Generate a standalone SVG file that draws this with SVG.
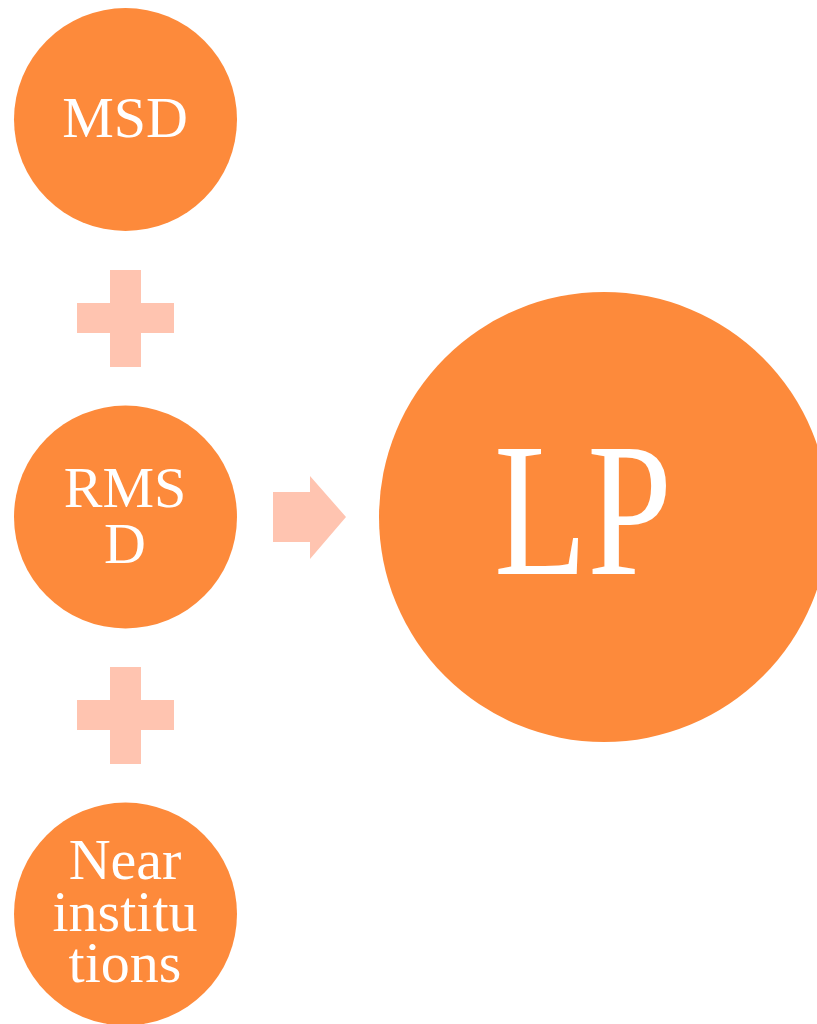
<svg xmlns="http://www.w3.org/2000/svg" width="817" height="1024" viewBox="0 0 817 1024">
<style>
.node{fill:#FD8A3B}
.lbl{fill:#FFFFFF;font-family:"Liberation Serif","DejaVu Serif",serif;font-size:58px;text-anchor:middle}
.big{font-size:190px}
.conn{fill:#FFC4B0}
</style>
<rect width="817" height="1024" fill="#FFFFFF"/>
<g id="connectors">
<path class="conn" d="M110,270H141V303H174V333H141V367H110V333H77V303H110Z"/>
<path class="conn" d="M110,667H141V700H174V730H141V764H110V730H77V700H110Z"/>
<path class="conn" d="M273,492H310V476L346,517L310,559V542H273Z"/>
</g>
<g id="msd">
<circle class="node" cx="125.5" cy="119.5" r="111.5"/>
<text class="lbl" x="125" y="137">MSD</text>
</g>
<g id="rmsd">
<circle class="node" cx="125.5" cy="517" r="111.5"/>
<text class="lbl" x="125" y="507">RMS</text>
<text class="lbl" x="125" y="563">D</text>
</g>
<g id="near">
<circle class="node" cx="125.5" cy="914" r="111.5"/>
<text class="lbl" x="125" y="879">Near</text>
<text class="lbl" x="125" y="931">institu</text>
<text class="lbl" x="125" y="982">tions</text>
</g>
<g id="lp">
<circle class="node" cx="604" cy="517" r="225"/>
<text class="lbl big" x="583" y="574" textLength="178" lengthAdjust="spacingAndGlyphs">LP</text>
</g>
</svg>
